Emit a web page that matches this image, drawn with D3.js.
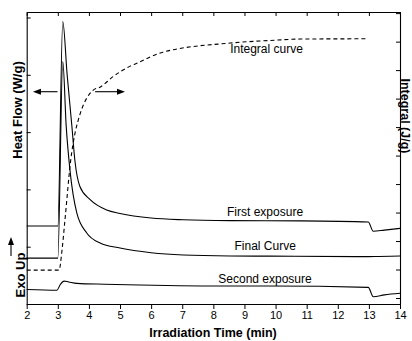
<!DOCTYPE html>
<html>
<head>
<meta charset="utf-8">
<script src="https://cdn.jsdelivr.net/npm/d3@7"></script>
<style>
    html, body { margin: 0; padding: 0; background: #fff; }
    svg { display: block; font-family: "Liberation Sans", Arial, sans-serif; }
</style>
</head>
<body>
<div id="container"></div>
<script>
// ---------------------------------------------------------------------
// Data
const xTicks = [2, 3, 4, 5, 6, 7, 8, 9, 10, 11, 12, 13, 14];

const firstTime  = [2, 3.0, 3.16, 3.3, 3.45, 3.55, 3.71, 4.04, 4.57, 5.0, 6.0, 7.03, 8.54, 10.8, 12.98, 13.14, 13.5, 14];
const firstFlow  = [1.36, 1.36, 4.93, 4.0, 3.12, 2.5, 2.05, 1.82, 1.64, 1.58, 1.50, 1.47, 1.455, 1.45, 1.43, 1.27, 1.29, 1.32];

const finalTime  = [2, 3.0, 3.16, 3.27, 3.39, 3.61, 3.93, 4.36, 5.0, 6.0, 7.03, 8.54, 9.82, 12.98, 13.3, 14];
const finalFlow  = [0.80, 0.80, 4.23, 3.1, 2.34, 1.59, 1.24, 1.065, 0.977, 0.895, 0.855, 0.838, 0.835, 0.826, 0.83, 0.838];

const secondTime = [2, 2.97, 3.08, 3.2, 3.35, 3.61, 4.5, 5.64, 8.54, 9.82, 12.98, 13.14, 13.5, 14];
const secondFlow = [0.253, 0.24, 0.34, 0.40, 0.385, 0.36, 0.345, 0.332, 0.314, 0.314, 0.291, 0.127, 0.16, 0.187];

const integralTime  = [2, 3.04, 3.135, 3.23, 3.415, 3.553, 3.659, 4.14, 4.357, 4.775, 5.325, 5.537, 6.38, 8.537, 9.98, 10.79, 12.97];
const integralValue = [0.98, 0.98, 1.68, 2.74, 4.84, 5.79, 6.25, 7.30, 7.40, 7.77, 8.14, 8.24, 8.63, 8.95, 9.05, 9.09, 9.10];

const leftTicks  = [0, 1, 2, 3, 4, 5];
const rightTicks = [0, 1, 2, 3, 4, 5, 6, 7, 8, 9, 10];

const curveLabels = [
    { text: "Integral curve",  t: 8.54, axis: "right", v: 8.6 },
    { text: "First exposure",  t: 8.44, axis: "left",  v: 1.53 },
    { text: "Final Curve",     t: 8.68, axis: "left",  v: 0.94 },
    { text: "Second exposure", t: 8.16, axis: "left",  v: 0.37 },
];

// ---------------------------------------------------------------------
// Chart
const width = 412;
const height = 341;
const marginTop = 12;
const marginRight = 12;
const marginBottom = 37;
const marginLeft = 26.7;

const x = d3.scaleLinear()
    .domain([2, 14])
    .range([marginLeft, width - marginRight]);

const yLeft = d3.scaleLinear()
    .domain([0, 5.096])
    .range([height - marginBottom, marginTop]);

const yRight = d3.scaleLinear()
    .domain([-0.21, 10.04])
    .range([height - marginBottom, marginTop]);

const svg = d3.create("svg")
    .attr("width", width)
    .attr("height", height)
    .attr("viewBox", `0 0 ${width} ${height}`);

// Axes
svg.append("g")
    .attr("transform", `translate(0,${height - marginBottom})`)
    .call(d3.axisBottom(x).tickValues(xTicks).tickSizeInner(5).tickSizeOuter(0).tickPadding(2))
    .call(g => g.selectAll("text").attr("font-size", 11).attr("fill", "#000"));

svg.append("g")
    .attr("transform", `translate(0,${marginTop})`)
    .call(d3.axisTop(x).tickValues(xTicks).tickSizeInner(-4).tickSizeOuter(0).tickFormat(""));

svg.append("g")
    .attr("transform", `translate(${marginLeft},0)`)
    .call(d3.axisLeft(yLeft).tickValues(leftTicks).tickSizeInner(-4).tickSizeOuter(0).tickFormat(""));

svg.append("g")
    .attr("transform", `translate(${width - marginRight},0)`)
    .call(d3.axisRight(yRight).tickValues(rightTicks).tickSizeInner(-4).tickSizeOuter(0).tickFormat(""));

svg.selectAll(".domain").attr("stroke", "#000").attr("stroke-width", 1.1);
svg.selectAll(".tick line").attr("stroke", "#000");

// Lines
const lineLeft = d3.line()
    .x(d => x(d[0]))
    .y(d => yLeft(d[1]))
    .curve(d3.curveMonotoneX);

const lineRight = d3.line()
    .x(d => x(d[0]))
    .y(d => yRight(d[1]))
    .curve(d3.curveMonotoneX);

const series = [
    [firstTime, firstFlow],
    [finalTime, finalFlow],
    [secondTime, secondFlow],
];
series.forEach(([ts, vs]) => {
    svg.append("path")
        .datum(ts.map((t, i) => [t, vs[i]]))
        .attr("fill", "none")
        .attr("stroke", "#000")
        .attr("stroke-width", 1.1)
        .attr("d", lineLeft);
});

svg.append("path")
    .datum(integralTime.map((t, i) => [t, integralValue[i]]))
    .attr("fill", "none")
    .attr("stroke", "#000")
    .attr("stroke-width", 1.1)
    .attr("stroke-dasharray", "4,3")
    .attr("d", lineRight);

// Curve labels
curveLabels.forEach(l => {
    const yy = l.axis === "left" ? yLeft(l.v) : yRight(l.v);
    svg.append("text")
        .attr("x", x(l.t))
        .attr("y", yy)
        .attr("font-size", 12)
        .text(l.text);
});

// Arrows: left one points at the heat flow axis, right one at the integral axis
const arrowY = yLeft(3.705);
const arrow = (x1, x2, y) => {
    const dir = Math.sign(x2 - x1);
    svg.append("line")
        .attr("x1", x1).attr("x2", x2 - dir * 6)
        .attr("y1", y).attr("y2", y)
        .attr("stroke", "#000").attr("stroke-width", 1.1);
    svg.append("path")
        .attr("d", `M${x2},${y} L${x2 - dir * 8},${y - 3} L${x2 - dir * 8},${y + 3} Z`)
        .attr("fill", "#000");
};
arrow(x(2.99), x(2.2), arrowY);
arrow(x(4.2), x(5.16), arrowY);

// Exo up arrow
svg.append("line")
    .attr("x1", 11).attr("x2", 11)
    .attr("y1", 256).attr("y2", 244)
    .attr("stroke", "#000").attr("stroke-width", 1.1);
svg.append("path")
    .attr("d", "M11,237 L8,245 L14,245 Z")
    .attr("fill", "#000");

// Axis titles
svg.append("text")
    .attr("transform", `translate(21.5,110) rotate(-90)`)
    .attr("text-anchor", "middle")
    .attr("font-size", 13)
    .attr("font-weight", "bold")
    .text("Heat Flow (W/g)");

svg.append("text")
    .attr("transform", `translate(24.5,275) rotate(-90)`)
    .attr("text-anchor", "middle")
    .attr("font-size", 13)
    .attr("font-weight", "bold")
    .text("Exo Up");

svg.append("text")
    .attr("transform", `translate(401.2,116) rotate(90)`)
    .attr("text-anchor", "middle")
    .attr("font-size", 12.5)
    .attr("font-weight", "bold")
    .text("Integral (J/g)");

svg.append("text")
    .attr("x", 213)
    .attr("y", 337)
    .attr("text-anchor", "middle")
    .attr("font-size", 12.5)
    .attr("font-weight", "bold")
    .text("Irradiation Time (min)");

d3.select("#container").append(() => svg.node());
</script>
</body>
</html>
